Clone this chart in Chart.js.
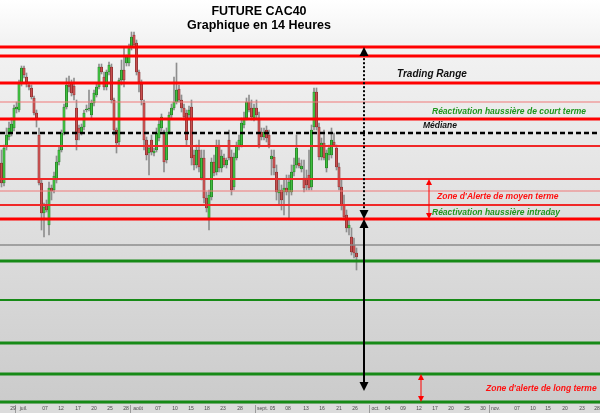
<!DOCTYPE html>
<html lang="fr">
<head>
<meta charset="UTF-8">
<title>FUTURE CAC40 - Graphique en 14 Heures</title>
<script src="https://cdn.jsdelivr.net/npm/chart.js@4.4.1/dist/chart.umd.min.js"></script>
<style>
    html, body { margin: 0; padding: 0; background: #fff; }
    #chart { display: block; }
</style>
</head>
<body>
<canvas id="chart" width="600" height="413"></canvas>
<script>
// 14h candles, one slot per candle
const candleOpen = [
    3241,3221,3257,3267,3271,3276,3295,3294,3321,3336,
    3327,3319,3316,3306,3291,3269,3221,3191,3199,3179,
    3216,3214,3224,3242,3254,3271,3297,3319,3321,3318,
    3296,3276,3271,3277,3294,3295,3289,3301,3309,3317,
    3337,3327,3317,3332,3337,3304,3274,3262,3324,3334,
    3341,3341,3357,3369,3361,3332,3320,3301,3264,3251,
    3264,3251,3254,3266,3276,3271,3244,3272,3289,3296,
    3302,3315,3304,3296,3291,3289,3297,3249,3239,3254,
    3226,3246,3206,3186,3207,3242,3232,3259,3236,3246,
    3239,3264,3247,3217,3246,3258,3259,3279,3286,3302,
    3296,3286,3296,3286,3272,3267,3274,3269,3245,3247,
    3232,3211,3214,3212,3216,3212,3212,3232,3239,3241,
    3235,3226,3226,3229,3217,3277,3312,3277,3247,3261,
    3236,3249,3249,3262,3256,3237,3217,3199,3189,3176,
    3167,3159,3151
];
const candleHigh = [
    3254,3259,3276,3282,3286,3299,3302,3324,3338,3338,
    3331,3322,3319,3308,3294,3276,3224,3201,3204,3222,
    3219,3232,3248,3257,3274,3300,3326,3328,3324,3326,
    3304,3279,3280,3294,3299,3314,3304,3314,3320,3340,
    3340,3332,3334,3342,3340,3306,3276,3326,3344,3357,
    3349,3360,3372,3372,3364,3334,3324,3304,3267,3259,
    3269,3256,3276,3284,3290,3274,3276,3292,3300,3327,
    3341,3319,3309,3300,3294,3298,3304,3254,3259,3264,
    3254,3254,3212,3214,3246,3249,3264,3264,3254,3250,
    3246,3274,3254,3251,3262,3269,3286,3292,3306,3309,
    3304,3300,3304,3292,3276,3276,3278,3274,3254,3254,
    3239,3224,3219,3224,3229,3229,3239,3246,3269,3246,
    3244,3244,3234,3254,3279,3316,3316,3281,3266,3274,
    3254,3259,3276,3271,3259,3241,3224,3209,3194,3184,
    3176,3166,3156
];
const candleLow = [
    3217,3218,3254,3264,3268,3273,3291,3292,3318,3326,
    3317,3314,3305,3289,3277,3219,3174,3167,3192,3169,
    3204,3211,3221,3239,3252,3269,3295,3312,3308,3304,
    3254,3264,3269,3274,3292,3293,3286,3298,3307,3315,
    3330,3314,3314,3329,3301,3269,3251,3259,3319,3317,
    3338,3338,3354,3356,3329,3312,3299,3254,3244,3229,
    3249,3248,3252,3263,3273,3232,3241,3270,3286,3294,
    3300,3302,3292,3284,3259,3284,3239,3234,3236,3232,
    3224,3201,3192,3174,3204,3228,3229,3232,3232,3237,
    3236,3244,3209,3214,3244,3254,3257,3276,3284,3292,
    3284,3283,3286,3256,3264,3264,3262,3256,3229,3229,
    3204,3199,3194,3189,3209,3186,3209,3228,3236,3236,
    3232,3212,3214,3214,3214,3274,3274,3244,3244,3244,
    3232,3244,3246,3258,3234,3214,3194,3184,3172,3169,
    3149,3146,3134
];
const candleClose = [
    3221,3256,3269,3276,3280,3296,3297,3321,3336,3329,
    3322,3317,3307,3291,3286,3221,3191,3197,3194,3216,
    3213,3228,3242,3254,3271,3297,3319,3317,3311,3309,
    3264,3271,3277,3291,3295,3296,3301,3311,3317,3337,
    3332,3317,3332,3339,3304,3274,3261,3324,3334,3324,
    3347,3357,3367,3359,3332,3322,3304,3264,3249,3256,
    3252,3253,3271,3280,3287,3242,3272,3289,3296,3302,
    3314,3304,3296,3287,3264,3294,3246,3239,3254,3237,
    3246,3206,3196,3209,3242,3231,3257,3236,3248,3239,
    3244,3246,3214,3247,3258,3264,3281,3286,3302,3294,
    3287,3296,3289,3259,3267,3272,3266,3259,3248,3236,
    3212,3214,3204,3216,3212,3222,3232,3239,3256,3238,
    3238,3216,3219,3216,3274,3312,3277,3247,3261,3246,
    3251,3256,3264,3259,3237,3217,3199,3187,3176,3179,
    3152,3151,3147
];

// x axis labels (slot position, text) and month separators
const tickPos = [4.6, 8.8, 17.4, 23.8, 30.6, 37, 43.4, 49.8, 54.6, 62.6,
    69.4, 75.8, 82.2, 88.6, 95.4, 104.4, 108.4, 114.6, 121.8, 128.2,
    135, 141.4, 149.6, 154.4, 160.6, 167, 173.4, 179.8, 186.2, 192.6,
    197.6, 206.2, 212.6, 218.6, 225.4, 232.2, 238.2];
const tickText = ['29', 'juil.', '07', '12', '17', '20', '25', '28', 'août', '07',
    '10', '15', '18', '23', '28', 'sept.', '05', '08', '13', '16',
    '21', '26', 'oct.', '04', '09', '12', '17', '20', '25', '30',
    'nov.', '07', '10', '15', '20', '23', '28'];
const monthMarks = [5.6, 51.2, 101.4, 147, 194.8];

// horizontal levels
const resistMajor = [3357, 3348, 3321, 3285, 3185];
const resistMid = [3258, 3225, 3199];
const resistMinor = [3302, 3213];
const medianLevel = 3271;
const pivotLevel = 3159;
const supportMajor = [3143, 3061, 3030, 3002];
const supportMid = [3104];

const UP = '#3fbf3f', UP_EDGE = '#1d6b1d';
const DOWN = '#c85050', DOWN_EDGE = '#7a2626';
const FONT = '"Liberation Sans", Arial, sans-serif';

const wickData = candleLow.map((l, i) => ({x: i, y: [l, candleHigh[i]]}));
const bodyData = candleOpen.map((o, i) => ({x: i, y: [o, candleClose[i]]}));
const isUp = candleOpen.map((o, i) => candleClose[i] >= o);

function hline(ctx, area, y, color, width, dash) {
    ctx.save();
    ctx.strokeStyle = color;
    ctx.lineWidth = width;
    if (dash) ctx.setLineDash(dash);
    ctx.beginPath();
    ctx.moveTo(area.left, y);
    ctx.lineTo(area.right, y);
    ctx.stroke();
    ctx.restore();
}

function head(ctx, x, tip, dir, size, color) {
    // dir -1 = pointing up, 1 = pointing down
    ctx.save();
    ctx.fillStyle = color;
    ctx.beginPath();
    ctx.moveTo(x, tip);
    ctx.lineTo(x - size / 2, tip - dir * size);
    ctx.lineTo(x + size / 2, tip - dir * size);
    ctx.closePath();
    ctx.fill();
    ctx.restore();
}

function vArrow(ctx, x, yTop, yBot, color, width, size, dash) {
    ctx.save();
    ctx.strokeStyle = color;
    ctx.lineWidth = width;
    if (dash) ctx.setLineDash(dash);
    ctx.beginPath();
    ctx.moveTo(x, yTop + size * 0.8);
    ctx.lineTo(x, yBot - size * 0.8);
    ctx.stroke();
    ctx.restore();
    head(ctx, x, yTop, -1, size, color);
    head(ctx, x, yBot, 1, size, color);
}

const overlay = {
    id: 'overlay',
    beforeDraw(chart) {
        const {ctx, width, height, chartArea} = chart;
        const g = ctx.createLinearGradient(0, 0, 0, chartArea.bottom);
        g.addColorStop(0, '#ffffff');
        g.addColorStop(0.1, '#f3f3f3');
        g.addColorStop(1, '#cbcbcb');
        ctx.save();
        ctx.fillStyle = g;
        ctx.fillRect(0, 0, width, chartArea.bottom);
        ctx.fillStyle = '#dcdcdc';
        ctx.fillRect(0, chartArea.bottom, width, height - chartArea.bottom);
        ctx.restore();
    },
    afterDatasetsDraw(chart) {
        const {ctx, chartArea} = chart;
        const xs = chart.scales.x, ys = chart.scales.y;
        const py = v => ys.getPixelForValue(v);
        const px = v => xs.getPixelForValue(v);

        resistMinor.forEach(v => hline(ctx, chartArea, py(v), '#f07878', 1));
        resistMid.forEach(v => hline(ctx, chartArea, py(v), '#f02828', 2));
        resistMajor.forEach(v => hline(ctx, chartArea, py(v), '#ff0000', 3));
        hline(ctx, chartArea, py(pivotLevel), '#8c8c8c', 1.5);
        supportMid.forEach(v => hline(ctx, chartArea, py(v), '#178a17', 2));
        supportMajor.forEach(v => hline(ctx, chartArea, py(v), '#178a17', 3));
        hline(ctx, chartArea, py(medianLevel), '#000', 2.5, [5, 3]);

        // trading range arrows
        const ax = px(145);
        vArrow(ctx, ax, py(3357), py(3185), '#000', 2, 9, [2, 2]);
        vArrow(ctx, ax, py(3185), py(3013), '#000', 2, 9);
        // alert zones
        vArrow(ctx, px(171), py(3225), py(3185), '#ff0000', 1, 6);
        vArrow(ctx, px(167.8), py(3030), py(3002), '#ff0000', 1, 6);

        ctx.save();
        ctx.textBaseline = 'middle';
        ctx.textAlign = 'left';
        const txt = (s, slot, price, color, size) => {
            ctx.font = 'italic bold ' + size + 'px ' + FONT;
            ctx.fillStyle = color;
            ctx.fillText(s, px(slot), py(price));
        };
        txt('Trading Range', 158.2, 3330, '#111', 10);
        txt('Réactivation haussière de court terme', 172.2, 3292, '#1e961e', 8.5);
        txt('Médiane', 168.6, 3278, '#111', 8.5);
        txt("Zone d'Alerte de moyen terme", 174.2, 3207, '#ff1010', 8.5);
        txt('Réactivation haussière intraday', 172.2, 3191, '#1e961e', 8.5);
        txt("Zone d'alerte de long terme", 193.8, 3015, '#ff1010', 8.5);

        // title
        ctx.textAlign = 'center';
        ctx.fillStyle = '#000';
        ctx.font = 'bold 12.5px ' + FONT;
        ctx.fillText('FUTURE CAC40', 259, 12);
        ctx.fillText('Graphique en 14 Heures', 259, 26);
        ctx.restore();
    },
    afterDraw(chart) {
        // date axis under the plot
        const {ctx, chartArea, height} = chart;
        const xs = chart.scales.x;
        ctx.save();
        ctx.strokeStyle = '#9a9a9a';
        ctx.lineWidth = 1;
        monthMarks.forEach(m => {
            const x = Math.round(xs.getPixelForValue(m)) + 0.5;
            ctx.beginPath();
            ctx.moveTo(x, chartArea.bottom + 1);
            ctx.lineTo(x, height);
            ctx.stroke();
        });
        ctx.fillStyle = '#4a4a4a';
        ctx.font = '5px ' + FONT;
        ctx.textAlign = 'center';
        ctx.textBaseline = 'middle';
        tickPos.forEach((p, i) => {
            ctx.fillText(tickText[i], xs.getPixelForValue(p), chartArea.bottom + 5);
        });
        ctx.restore();
    }
};

new Chart(document.getElementById('chart'), {
    type: 'bar',
    data: {
        datasets: [
            {
                label: 'mèches',
                data: wickData,
                backgroundColor: '#8e8e8e',
                barThickness: 1,
                grouped: false,
                order: 2
            },
            {
                label: 'corps',
                data: bodyData,
                backgroundColor: isUp.map(u => u ? UP : DOWN),
                borderColor: isUp.map(u => u ? UP_EDGE : DOWN_EDGE),
                borderWidth: 0.6,
                borderSkipped: false,
                barThickness: 2.4,
                grouped: false,
                order: 1
            }
        ]
    },
    options: {
        responsive: false,
        animation: false,
        layout: {padding: 0},
        plugins: {legend: {display: false}, tooltip: {enabled: false}},
        scales: {
            x: {
                type: 'linear',
                min: -0.6,
                max: 239.4,
                offset: false,
                grid: {display: false},
                border: {display: false},
                ticks: {display: false},
                afterFit: s => { s.height = 9; }
            },
            y: {
                display: false,
                min: 3000,
                max: 3404
            }
        }
    },
    plugins: [overlay]
});
</script>
</body>
</html>
